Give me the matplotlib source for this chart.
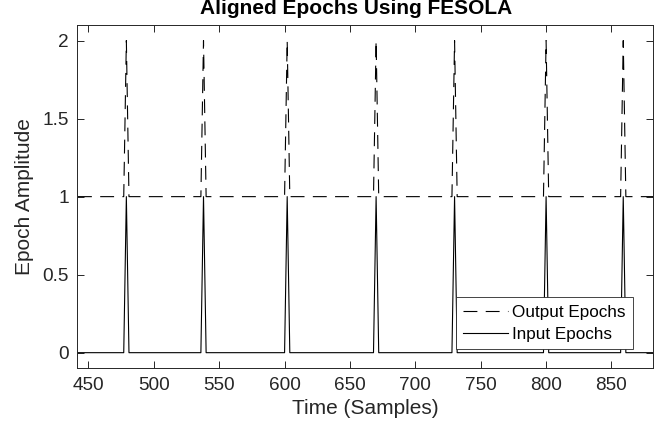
import numpy as np
import matplotlib.pyplot as plt

plt.rcParams['font.family'] = ['Liberation Sans', 'DejaVu Sans']
plt.rcParams['lines.scale_dashes'] = False

# epoch positions (samples)
input_epochs = [479, 538, 602, 670, 730, 800, 859]
output_epochs = [479, 538, 602, 670, 730, 800, 859]
input_base, input_peak = 0, 1
output_base, output_peak = 1, 2
x_start, x_end = 442, 882


def spike_train(epochs, base, peak):
    xs = [x_start]
    ys = [base]
    for e in epochs:
        xs += [e - 2, e, e + 2]
        ys += [base, peak, base]
    xs.append(x_end)
    ys.append(base)
    return xs, ys


fig = plt.figure(figsize=(6.7, 4.4), dpi=100)
ax = fig.add_axes([0.1154, 0.1630, 0.8597, 0.7802])

xo, yo = spike_train(output_epochs, output_base, output_peak)
xi, yi = spike_train(input_epochs, input_base, input_peak)
ax.plot(xo, yo, color='black', lw=0.8, ls=(0, (10, 6)), label='Output Epochs')
ax.plot(xi, yi, color='black', lw=0.8, label='Input Epochs')

ax.set_xlim(441.5, 882)
ax.set_ylim(-0.1, 2.1)
ax.set_xticks(np.arange(450, 851, 50))
ax.set_yticks([0, 0.5, 1, 1.5, 2])
ax.set_yticklabels(['0', '0.5', '1', '1.5', '2'])

grey = '#262626'
for s in ax.spines.values():
    s.set_color(grey)
    s.set_linewidth(0.7)
ax.tick_params(direction='in', length=5, width=0.7, color=grey,
               labelsize=13.7, labelcolor=grey, top=True, right=True, pad=6)

ax.set_xlabel('Time (Samples)', fontsize=15, color=grey, labelpad=4)
ax.set_ylabel('Epoch Amplitude', fontsize=15, color=grey, labelpad=6)
fig.text(0.532, 0.968, 'Aligned Epochs Using FESOLA', ha='center', va='baseline',
         fontsize=15, fontweight='bold', color='black')

leg = ax.legend(loc='lower right', bbox_to_anchor=(0.9653, 0.0553), borderaxespad=0,
                fontsize=12.3, handlelength=2.6, handletextpad=0.25, labelspacing=0.4,
                borderpad=0.45, fancybox=False, framealpha=1, edgecolor=grey)
leg.get_frame().set_linewidth(0.6)

fig.savefig('out.png', dpi=100)
